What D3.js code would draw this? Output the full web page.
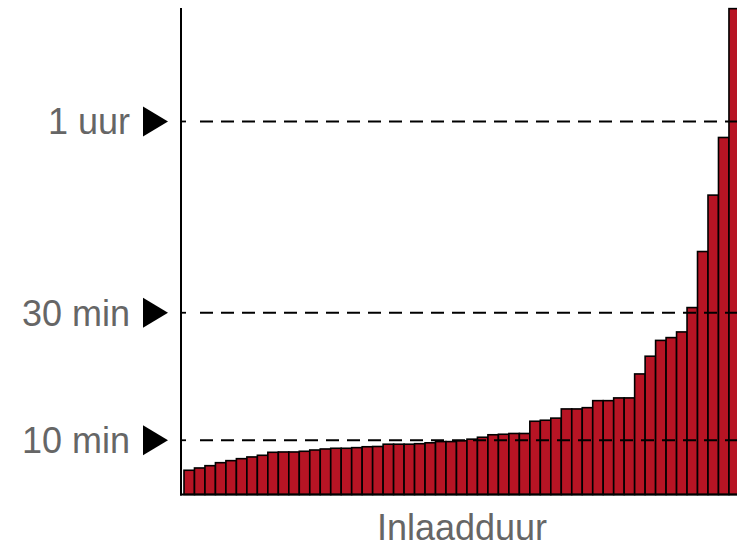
<!DOCTYPE html>
<html>
<head>
<meta charset="utf-8">
<script src="https://cdn.jsdelivr.net/npm/d3@7/dist/d3.min.js"></script>
<style>
  html, body { margin: 0; padding: 0; background: #fff; }
  svg { display: block; }
</style>
</head>
<body>
<svg id="chart" width="737" height="547"></svg>
<script>
// Load time (minutes) per item, sorted ascending
const durations = [
  5.29, 5.65, 6.01, 6.48, 6.80, 7.11, 7.38, 7.64, 8.11, 8.16,
  8.16, 8.27, 8.47, 8.63, 8.74, 8.74, 8.84, 8.98, 9.02, 9.38,
  9.38, 9.38, 9.46, 9.60, 9.79, 9.79, 9.92, 10.17, 10.47, 10.86,
  10.94, 11.06, 11.06, 12.98, 13.14, 13.47, 14.91, 14.91, 15.11, 16.21,
  16.21, 16.64, 16.64, 20.40, 23.18, 25.66, 26.10, 26.99, 30.81, 39.60,
  48.45, 57.49, 77.7
];
const markValues = [10, 30, 60];
const markLabels = ["10 min", "30 min", "1 uur"];
const xTitle = "Inlaadduur";

const svg = d3.select("#chart");
const axisX = 181, baseY = 494.5, topY = 8;
const barStart = 184, barW = 10.48;

const x = d3.scaleBand()
  .domain(durations.map((d, i) => i))
  .range([barStart, barStart + barW * durations.length])
  .paddingInner(0).paddingOuter(0);

const y = d3.scaleLinear().domain([1.49, 77.8]).range([baseY, topY]);

// bars
svg.append("g").selectAll("rect").data(durations).join("rect")
  .attr("x", (d, i) => x(i))
  .attr("y", d => y(d))
  .attr("width", x.bandwidth())
  .attr("height", d => baseY - y(d))
  .attr("fill", "#b71424")
  .attr("stroke", "#000")
  .attr("stroke-width", 1.6);

// dashed reference lines (on top of bars)
const grid = svg.append("g");
markValues.forEach(v => {
  grid.append("line")
    .attr("x1", axisX).attr("x2", 186)
    .attr("y1", y(v)).attr("y2", y(v))
    .attr("stroke", "#000").attr("stroke-width", 1.8);
  grid.append("line")
    .attr("x1", 200).attr("x2", 740)
    .attr("y1", y(v)).attr("y2", y(v))
    .attr("stroke", "#000").attr("stroke-width", 1.8)
    .attr("stroke-dasharray", "13,8");
});

// axes lines
svg.append("line")
  .attr("x1", axisX).attr("x2", axisX)
  .attr("y1", topY).attr("y2", baseY + 1)
  .attr("stroke", "#000").attr("stroke-width", 2);
svg.append("line")
  .attr("x1", axisX - 1).attr("x2", 737)
  .attr("y1", baseY).attr("y2", baseY)
  .attr("stroke", "#000").attr("stroke-width", 2);

// labels and arrows
const lab = svg.append("g");
markValues.forEach((v, i) => {
  const yy = y(v);
  lab.append("text")
    .attr("x", 130).attr("y", yy)
    .attr("dy", "0.36em")
    .attr("text-anchor", "end")
    .attr("font-family", "'Liberation Sans', Arial, sans-serif")
    .attr("font-size", 36)
    .attr("fill", "#666666")
    .text(markLabels[i]);
  lab.append("path")
    .attr("d", `M143,${yy - 15} L168,${yy} L143,${yy + 15} Z`)
    .attr("fill", "#000");
});

svg.append("text")
  .attr("x", 462).attr("y", 540)
  .attr("text-anchor", "middle")
  .attr("font-family", "'Liberation Sans', Arial, sans-serif")
  .attr("font-size", 36)
  .attr("fill", "#666666")
  .text(xTitle);
</script>
</body>
</html>
